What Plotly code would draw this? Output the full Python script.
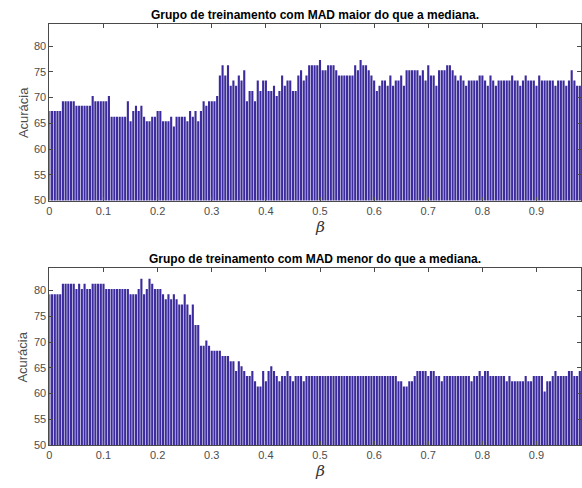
import plotly.graph_objects as go

# Accuracy (%) for each beta value, beta = 0, 0.005, 0.010, ...
acc_mad_maior = [
    67.4, 67.4, 67.4, 67.4, 67.4, 69.3, 69.3, 69.3, 69.3, 69.3,
    68.4, 68.4, 68.4, 68.4, 68.4, 68.4, 70.3, 69.3, 69.3, 69.3,
    69.3, 69.3, 70.3, 66.3, 66.3, 66.3, 66.3, 66.3, 66.3, 69.3,
    65.4, 67.4, 68.4, 67.4, 68.4, 66.3, 65.4, 65.4, 66.3, 66.3,
    67.4, 67.4, 65.4, 65.4, 65.4, 66.3, 64.4, 66.3, 66.3, 66.3,
    66.3, 65.4, 67.4, 66.3, 67.4, 65.4, 67.4, 69.3, 68.4, 69.3,
    69.3, 69.3, 70.3, 74.3, 76.3, 74.3, 76.3, 72.3, 73.3, 72.3,
    74.3, 73.3, 75.3, 69.3, 71.3, 71.3, 69.3, 73.3, 71.3, 73.3,
    73.3, 71.3, 71.3, 72.3, 70.3, 71.3, 74.3, 72.3, 73.3, 73.3,
    71.3, 71.3, 74.3, 75.3, 73.3, 74.3, 76.3, 76.3, 76.3, 76.3,
    77.3, 75.3, 75.3, 76.3, 76.3, 76.3, 75.3, 74.3, 74.3, 74.3,
    74.3, 74.3, 74.3, 76.3, 75.3, 77.3, 76.3, 76.3, 75.3, 74.3,
    73.3, 71.3, 72.3, 73.3, 73.3, 72.3, 74.3, 72.3, 73.3, 73.3,
    74.3, 72.3, 75.3, 75.3, 75.3, 75.3, 75.3, 74.3, 75.3, 73.3,
    76.3, 74.3, 74.3, 72.3, 75.3, 75.3, 75.3, 76.3, 76.3, 75.3,
    74.3, 73.3, 74.3, 73.3, 72.3, 73.3, 73.3, 73.3, 73.3, 74.3,
    74.3, 73.3, 72.3, 74.3, 73.3, 72.3, 73.3, 73.3, 73.3, 73.3,
    73.3, 74.3, 73.3, 73.3, 72.3, 73.3, 74.3, 73.3, 73.3, 73.3,
    72.3, 74.3, 73.3, 73.3, 73.3, 73.3, 73.3, 72.3, 73.3, 73.3,
    73.3, 72.3, 73.3, 75.3, 73.3, 72.3, 72.3,
]

acc_mad_menor = [
    79.3, 79.3, 79.3, 79.3, 79.3, 81.3, 81.3, 81.3, 81.3, 81.3,
    80.3, 81.3, 80.3, 81.3, 80.3, 80.3, 81.3, 81.3, 81.3, 81.3,
    81.3, 80.3, 80.3, 80.3, 80.3, 80.3, 80.3, 80.3, 80.3, 80.3,
    79.3, 79.3, 79.3, 80.3, 82.3, 79.3, 80.3, 82.3, 81.3, 80.3,
    80.3, 80.3, 79.3, 78.3, 79.3, 78.3, 79.3, 78.3, 77.3, 77.3,
    79.3, 77.3, 75.3, 77.3, 73.3, 73.3, 69.3, 69.3, 70.3, 69.3,
    68.3, 68.3, 68.3, 68.3, 67.3, 67.3, 67.3, 66.3, 66.3, 64.4,
    66.3, 65.3, 64.4, 63.4, 63.4, 64.4, 62.4, 61.4, 61.4, 64.4,
    62.4, 64.4, 65.3, 64.4, 63.4, 62.4, 63.4, 63.4, 64.4, 63.4,
    62.4, 63.4, 63.4, 63.4, 62.4, 63.4, 63.4, 63.4, 63.4, 63.4,
    63.4, 63.4, 63.4, 63.4, 63.4, 63.4, 63.4, 63.4, 63.4, 63.4,
    63.4, 63.4, 63.4, 63.4, 63.4, 63.4, 63.4, 63.4, 63.4, 63.4,
    63.4, 63.4, 63.4, 63.4, 63.4, 63.4, 63.4, 63.4, 63.4, 62.4,
    62.4, 61.4, 61.4, 62.4, 62.4, 63.4, 64.4, 64.4, 64.4, 64.4,
    63.4, 64.4, 64.4, 63.4, 63.4, 62.4, 63.4, 63.4, 63.4, 63.4,
    63.4, 63.4, 63.4, 63.4, 63.4, 63.4, 62.4, 63.4, 63.4, 64.4,
    63.4, 64.4, 64.4, 63.4, 63.4, 63.4, 63.4, 63.4, 63.4, 62.4,
    63.4, 62.4, 62.4, 62.4, 62.4, 62.4, 63.4, 62.4, 62.4, 63.4,
    63.4, 63.4, 63.4, 60.4, 62.4, 62.4, 63.4, 64.4, 63.4, 63.4,
    63.4, 63.4, 64.4, 64.4, 63.4, 63.4, 64.4,
]

beta = [round(0.005 * i, 3) for i in range(len(acc_mad_maior))]

x_ticks = [0, 0.1, 0.2, 0.3, 0.4, 0.5, 0.6, 0.7, 0.8, 0.9]
x_tick_text = ["0", "0.1", "0.2", "0.3", "0.4", "0.5", "0.6", "0.7", "0.8", "0.9"]
y_ticks = [50, 55, 60, 65, 70, 75, 80]

titles = [
    "Grupo de treinamento com MAD maior do que a mediana.",
    "Grupo de treinamento com MAD menor do que a mediana.",
]

W, H = 582, 488
BAR_COLOR = "#3b2b9d"
AXIS_COLOR = "#4a4a4a"
TICK_FONT = dict(family="Liberation Sans, Arial, sans-serif", size=11, color="#4d4d4d")

# plot areas in pixels: (top, bottom); all share the same left edge
left_px = 46.7
areas = [(24.3, 203.0), (271.7, 450.7)]

fig = go.Figure()
for i, (vals, (top_px, bot_px)) in enumerate(zip([acc_mad_maior, acc_mad_menor], areas)):
    n = i + 1
    fig.add_trace(go.Bar(
        x=beta, y=vals, base=0,
        marker=dict(color=BAR_COLOR, line=dict(width=0)),
        xaxis=f"x{n}" if n > 1 else "x",
        yaxis=f"y{n}" if n > 1 else "y",
        showlegend=False, hoverinfo="x+y",
    ))
    axis_common = dict(
        showline=True, linecolor=AXIS_COLOR, linewidth=1, mirror="ticks",
        ticks="inside", ticklen=4, tickcolor=AXIS_COLOR, tickwidth=1,
        showgrid=False, zeroline=False, tickfont=TICK_FONT,
    )
    xkey = "xaxis" if n == 1 else f"xaxis{n}"
    ykey = "yaxis" if n == 1 else f"yaxis{n}"
    fig.update_layout({
        xkey: dict(domain=[left_px / W, 1.0], range=[0, (W - left_px) / 545.0],
                   tickvals=x_ticks, ticktext=x_tick_text,
                   anchor="y" if n == 1 else f"y{n}", **axis_common),
        ykey: dict(domain=[(H - bot_px) / H, (H - top_px) / H], range=[50, 84.3],
                   tickvals=y_ticks, anchor="x" if n == 1 else f"x{n}",
                   **axis_common),
    })
    # subplot title
    fig.add_annotation(
        text=f"<b>{titles[i]}</b>", xref="paper", yref="paper",
        x=(left_px + W) / 2 / W, y=(H - (top_px - 9.5)) / H,
        xanchor="center", yanchor="middle", showarrow=False,
        font=dict(family="Liberation Sans, Arial, sans-serif", size=12, color="#000000"),
    )
    # y axis label
    fig.add_annotation(
        text="Acurácia", xref="paper", yref="paper",
        x=20 / W, y=(H - (top_px + bot_px) / 2) / H, textangle=-90,
        xanchor="center", yanchor="middle", showarrow=False,
        font=dict(family="Liberation Sans, Arial, sans-serif", size=13, color="#4d4d4d"),
    )
    # x axis label
    fig.add_annotation(
        text="<i>β</i>", xref="x" if n == 1 else f"x{n}", yref="paper",
        x=0.5, y=(H - (bot_px + 16.5)) / H, borderpad=0,
        xanchor="center", yanchor="top", showarrow=False,
        font=dict(family="DejaVu Serif, serif", size=15.5, color="#333333"),
    )

fig.update_layout(
    width=W, height=H, margin=dict(l=0, r=0, t=0, b=0),
    paper_bgcolor="white", plot_bgcolor="white",
    bargap=0.22, barmode="overlay",
)

fig.write_html("out.html")
